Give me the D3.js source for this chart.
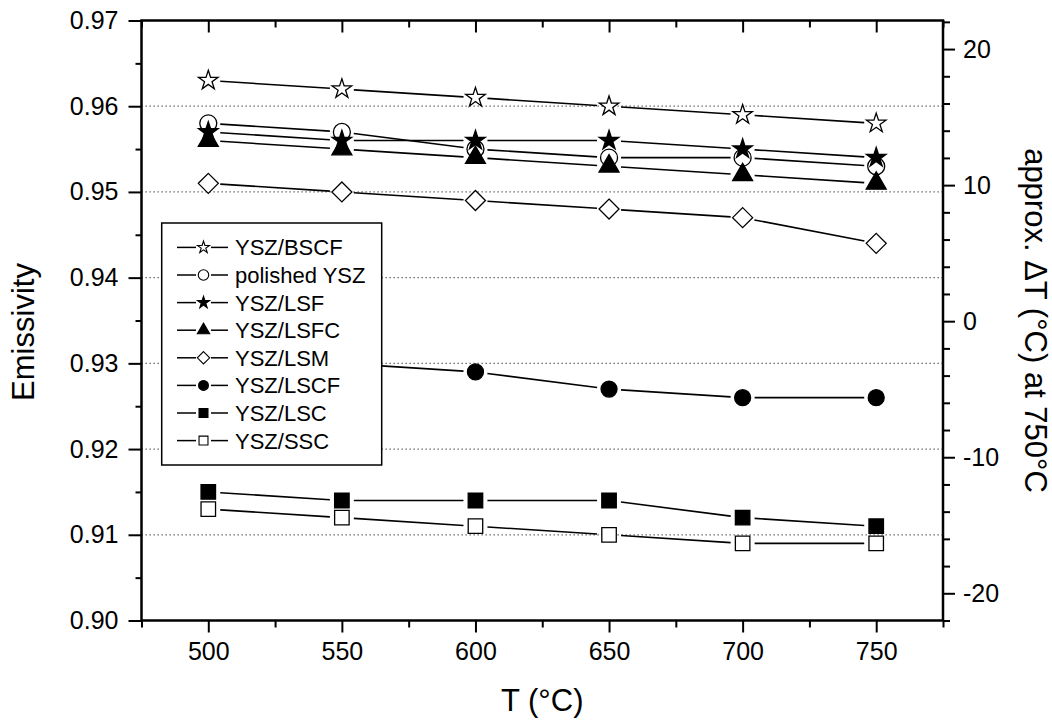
<!DOCTYPE html>
<html>
<head>
<meta charset="utf-8">
<script src="https://cdn.jsdelivr.net/npm/d3@7"></script>
<style>
  body { margin: 0; background: #fff; }
  svg { display: block; font-family: "Liberation Sans", Arial, sans-serif; }
  .tick text { font-size: 25px; fill: #000; }
</style>
</head>
<body>
<svg id="chart" width="1052" height="720"></svg>
<script>
// data
const temps = [500, 550, 600, 650, 700, 750];
const seriesNames = ['YSZ/BSCF', 'polished YSZ', 'YSZ/LSF', 'YSZ/LSFC', 'YSZ/LSM', 'YSZ/LSCF', 'YSZ/LSC', 'YSZ/SSC'];
const bscf = [0.963, 0.962, 0.961, 0.960, 0.959, 0.958];
const polishedYsz = [0.958, 0.957, 0.955, 0.954, 0.954, 0.953];
const lsf = [0.957, 0.956, 0.956, 0.956, 0.955, 0.954];
const lsfc = [0.956, 0.955, 0.954, 0.953, 0.952, 0.951];
const lsm = [0.951, 0.950, 0.949, 0.948, 0.947, 0.944];
const lscf = [0.931, 0.930, 0.929, 0.927, 0.926, 0.926];
const lsc = [0.915, 0.914, 0.914, 0.914, 0.912, 0.911];
const ssc = [0.913, 0.912, 0.911, 0.910, 0.909, 0.909];

const xMajor = [500, 550, 600, 650, 700, 750];
const xMinor = [475, 525, 575, 625, 675, 725, 775];
const yMajor = [0.90, 0.91, 0.92, 0.93, 0.94, 0.95, 0.96, 0.97];
const yMinor = [0.905, 0.915, 0.925, 0.935, 0.945, 0.955, 0.965];
const gridValues = [0.91, 0.92, 0.93, 0.94, 0.95, 0.96];
const dtMajor = [-20, -10, 0, 10, 20];
const dtMinor = [-22, -18, -16, -14, -12, -8, -6, -4, -2, 2, 4, 6, 8, 12, 14, 16, 18, 22];

const L = 141.5, R = 943, T = 20.5, B = 620.5;

const svg = d3.select('#chart');
svg.append('rect').attr('width', 1052).attr('height', 720).attr('fill', '#fff');

const x = d3.scaleLinear().domain([475, 775]).range([L, R]);
const y = d3.scaleLinear().domain([0.90, 0.97]).range([B, T]);
const yR = d3.scaleLinear().domain([-22, 22.1]).range([B, T]);

// dotted grid
svg.append('g').selectAll('line')
  .data(gridValues)
  .join('line')
  .attr('x1', L).attr('x2', R)
  .attr('y1', d => y(d)).attr('y2', d => y(d))
  .attr('stroke', '#555')
  .attr('stroke-width', 1.2)
  .attr('stroke-dasharray', '1.3,2.7');

// axes
function styleAxis(g) {
  g.select('.domain').remove();
  g.selectAll('.tick line').attr('stroke', '#000').attr('stroke-width', 2);
}

svg.append('g').attr('transform', `translate(0,${B})`)
  .call(d3.axisBottom(x).tickValues(xMajor).tickSize(12).tickPadding(10).tickFormat(d3.format('d')))
  .call(styleAxis);
svg.append('g').attr('transform', `translate(0,${B})`)
  .call(d3.axisBottom(x).tickValues(xMinor).tickSize(7).tickFormat(''))
  .call(styleAxis);
// top: ticks point inward
svg.append('g').attr('transform', `translate(0,${T})`)
  .call(d3.axisBottom(x).tickValues(xMajor).tickSize(12).tickFormat(''))
  .call(styleAxis);
svg.append('g').attr('transform', `translate(0,${T})`)
  .call(d3.axisBottom(x).tickValues(xMinor).tickSize(7).tickFormat(''))
  .call(styleAxis);

svg.append('g').attr('transform', `translate(${L},0)`)
  .call(d3.axisLeft(y).tickValues(yMajor).tickSize(13).tickPadding(10).tickFormat(d3.format('.2f')))
  .call(styleAxis);
svg.append('g').attr('transform', `translate(${L},0)`)
  .call(d3.axisLeft(y).tickValues(yMinor).tickSize(6).tickFormat(''))
  .call(styleAxis);

svg.append('g').attr('transform', `translate(${R},0)`)
  .call(d3.axisRight(yR).tickValues(dtMajor).tickSize(12).tickPadding(8).tickFormat(d => String(d)))
  .call(styleAxis);
svg.append('g').attr('transform', `translate(${R},0)`)
  .call(d3.axisRight(yR).tickValues(dtMinor).tickSize(7).tickFormat(''))
  .call(styleAxis);

// frame
svg.append('rect')
  .attr('x', L).attr('y', T)
  .attr('width', R - L).attr('height', B - T)
  .attr('fill', 'none')
  .attr('stroke', '#000')
  .attr('stroke-width', 2.5);

// axis titles
svg.append('text')
  .attr('x', (L + R) / 2).attr('y', 711)
  .attr('text-anchor', 'middle')
  .style('font-size', '31px')
  .text('T (°C)');

svg.append('text')
  .attr('transform', `translate(34,332) rotate(-90)`)
  .attr('text-anchor', 'middle')
  .style('font-size', '31px')
  .text('Emissivity');

svg.append('text')
  .attr('transform', `translate(1025,${(T + B) / 2}) rotate(90)`)
  .attr('text-anchor', 'middle')
  .style('font-size', '31px')
  .text('approx. ΔT (°C) at 750°C');

// marker shapes
const diamondType = {
  draw(ctx, size) {
    const r = Math.sqrt(size / 2);
    ctx.moveTo(0, -r); ctx.lineTo(r, 0); ctx.lineTo(0, r); ctx.lineTo(-r, 0); ctx.closePath();
  }
};

const markers = [
  { type: d3.symbolStar, size: 118, fill: '#fff' },
  { type: d3.symbolCircle, size: 227, fill: '#fff' },
  { type: d3.symbolStar, size: 118, fill: '#000' },
  { type: d3.symbolTriangle, size: 173, fill: '#000' },
  { type: diamondType, size: 200, fill: '#fff' },
  { type: d3.symbolCircle, size: 201, fill: '#000' },
  { type: d3.symbolSquare, size: 210, fill: '#000' },
  { type: d3.symbolSquare, size: 210, fill: '#fff' }
];

const seriesValues = [bscf, polishedYsz, lsf, lsfc, lsm, lscf, lsc, ssc];
const series = seriesNames.map((name, i) => ({
  name,
  marker: markers[i],
  points: temps.map((t, j) => ({ t, v: seriesValues[i][j] }))
}));

const GAP = 12;
const plot = svg.append('g');

series.forEach(s => {
  const g = plot.append('g');
  // connecting segments, stopped short of the markers
  const segs = d3.pairs(s.points).map(([a, b]) => {
    const x1 = x(a.t), y1 = y(a.v), x2 = x(b.t), y2 = y(b.v);
    const len = Math.hypot(x2 - x1, y2 - y1);
    const ux = (x2 - x1) / len, uy = (y2 - y1) / len;
    return [x1 + ux * GAP, y1 + uy * GAP, x2 - ux * GAP, y2 - uy * GAP];
  });
  g.selectAll('line')
    .data(segs)
    .join('line')
    .attr('x1', d => d[0]).attr('y1', d => d[1])
    .attr('x2', d => d[2]).attr('y2', d => d[3])
    .attr('stroke', '#000')
    .attr('stroke-width', 1.6);

  g.selectAll('path')
    .data(s.points)
    .join('path')
    .attr('transform', d => `translate(${x(d.t)},${y(d.v)})`)
    .attr('d', d3.symbol(s.marker.type, s.marker.size))
    .attr('fill', s.marker.fill)
    .attr('stroke', '#000')
    .attr('stroke-width', 1.3);
});

// legend
const legX = 161.7, legY = 223, legW = 220, legH = 242;
const legend = svg.append('g');
legend.append('rect')
  .attr('x', legX).attr('y', legY)
  .attr('width', legW).attr('height', legH)
  .attr('fill', '#fff')
  .attr('stroke', '#000')
  .attr('stroke-width', 1.5);

const row = legend.selectAll('g.row')
  .data(series)
  .join('g')
  .attr('class', 'row')
  .attr('transform', (d, i) => `translate(0,${247.4 + i * 27.6})`);

row.append('line')
  .attr('x1', 177).attr('x2', 196).attr('y1', 0).attr('y2', 0)
  .attr('stroke', '#000').attr('stroke-width', 1.5);
row.append('line')
  .attr('x1', 211).attr('x2', 228).attr('y1', 0).attr('y2', 0)
  .attr('stroke', '#000').attr('stroke-width', 1.5);
row.append('path')
  .attr('transform', 'translate(203.5,0)')
  .attr('d', d => d3.symbol(d.marker.type, d.marker.size * 0.38)())
  .attr('fill', d => d.marker.fill)
  .attr('stroke', '#000')
  .attr('stroke-width', 1.1);
row.append('text')
  .attr('x', 235)
  .attr('dy', '0.36em')
  .style('font-size', '22px')
  .text(d => d.name);
</script>
</body>
</html>
